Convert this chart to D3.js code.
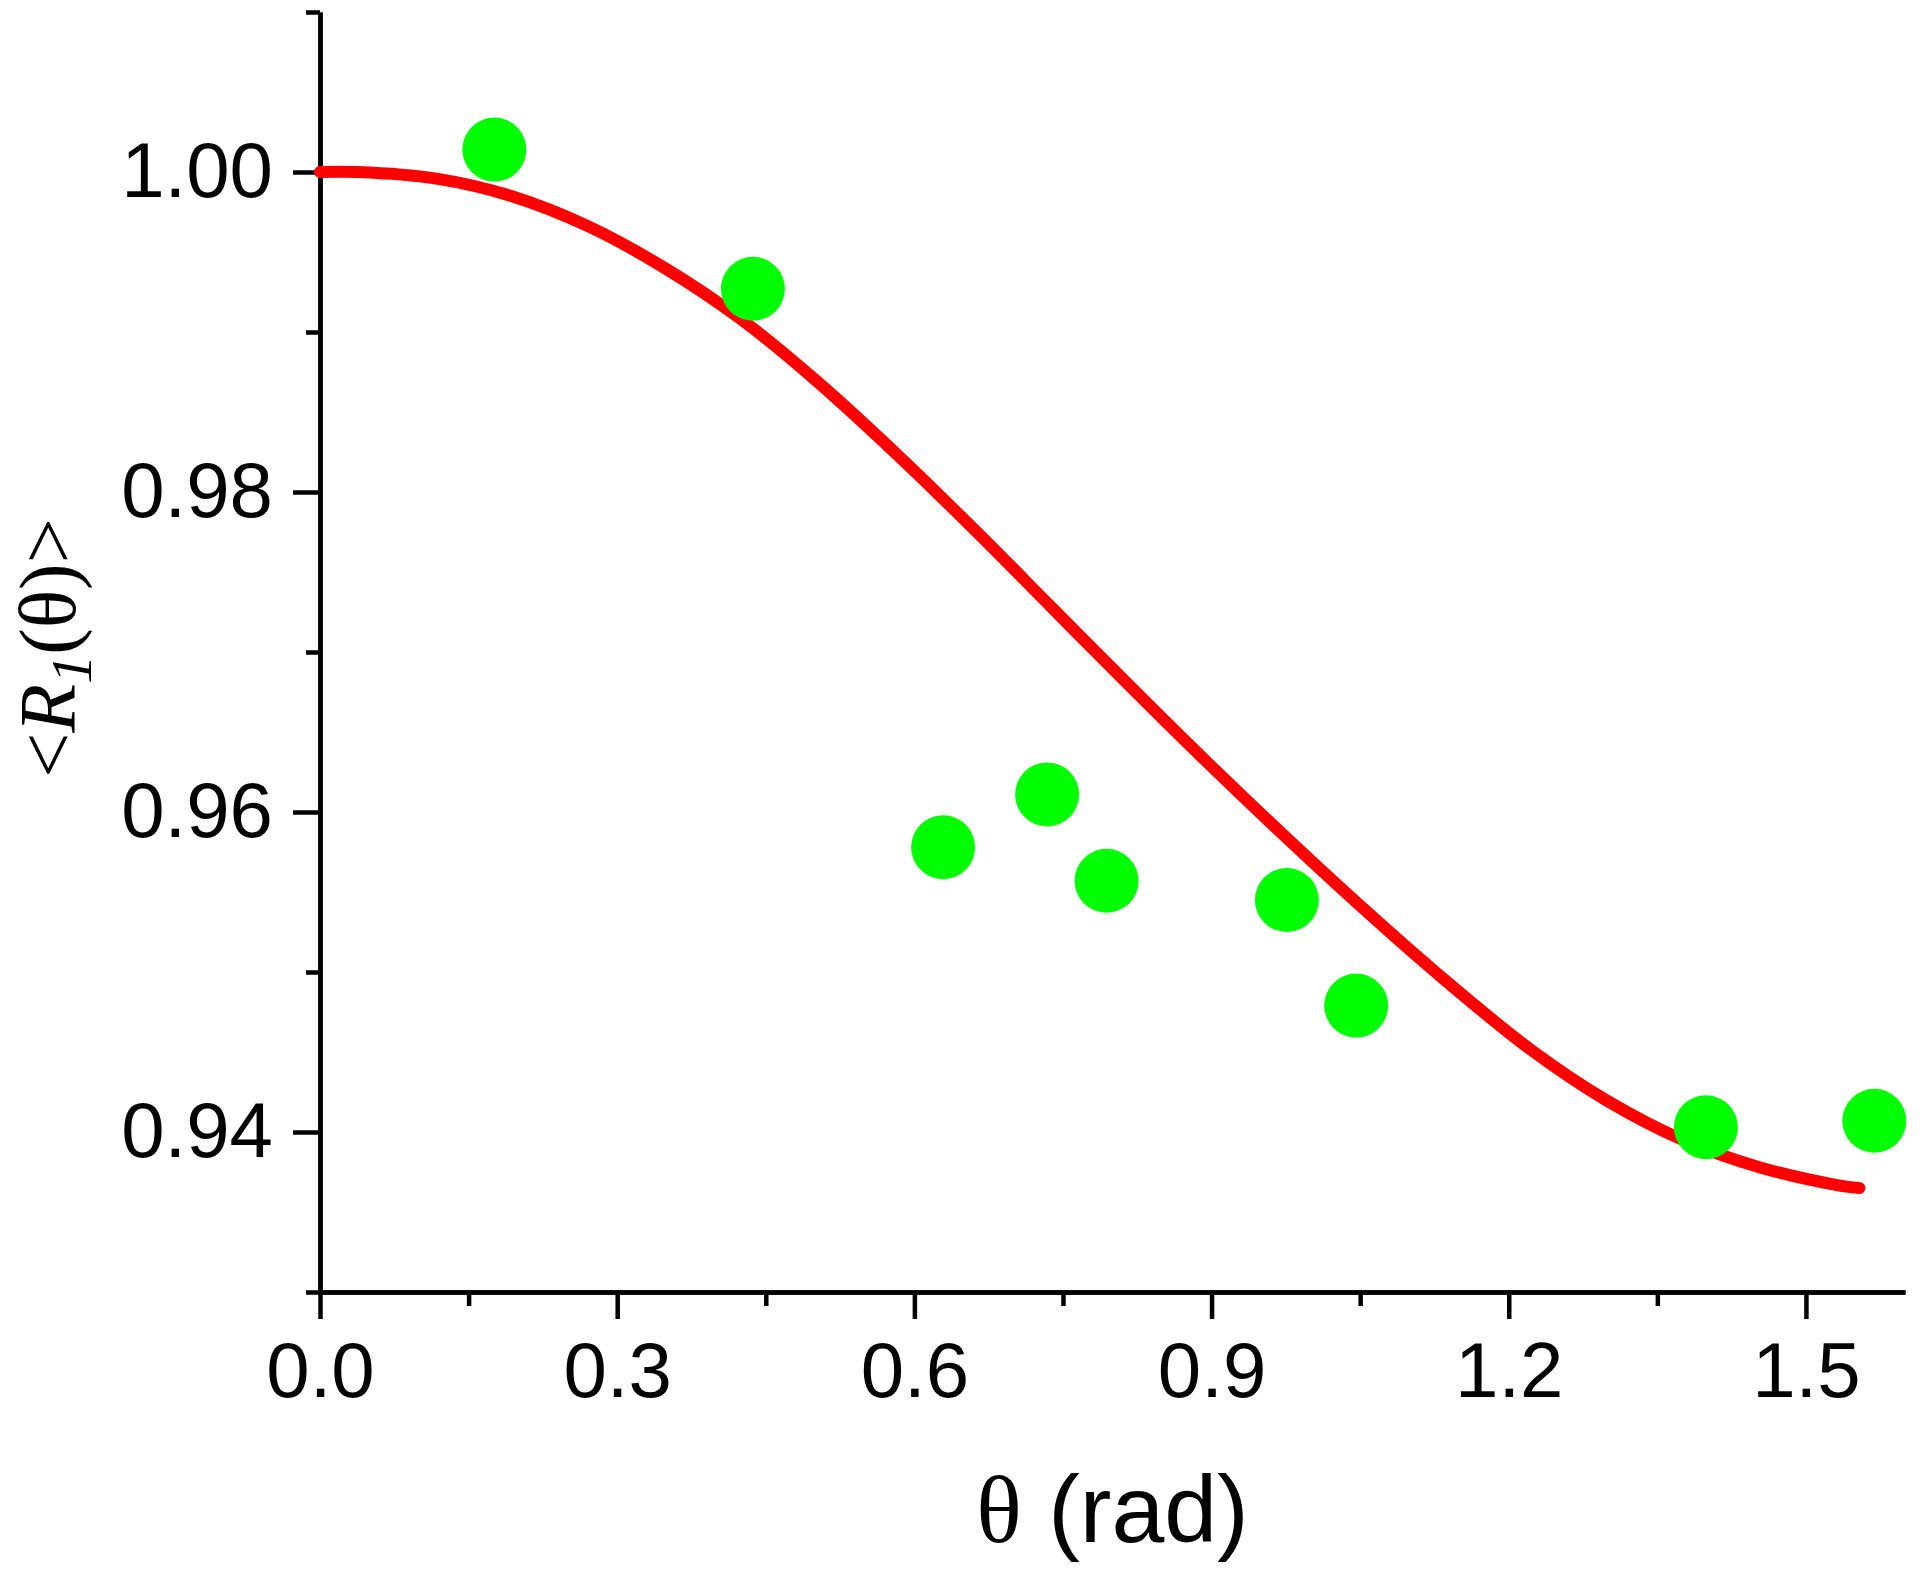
<!DOCTYPE html>
<html>
<head>
<meta charset="utf-8">
<script src="https://cdn.jsdelivr.net/npm/d3@7"></script>
<style>
  body { margin: 0; background: #fff; }
  .axis path, .axis line { stroke: #000; stroke-width: 4.5; }
  .axis text { font-family: "Liberation Sans", Arial, sans-serif; font-size: 78px; fill: #000; }
</style>
</head>
<body>
<svg id="chart" width="1920" height="1575"></svg>
<script>
// fitted curve
const fitTheta = [0, 0.038, 0.116, 0.193, 0.271, 0.348, 0.425, 0.502, 0.585, 0.663,
                  0.740, 0.817, 0.894, 0.972, 1.049, 1.126, 1.221, 1.298, 1.376, 1.453, 1.530, 1.554];
const fitValue = [1.0000, 1.0000, 0.9996, 0.9985, 0.9966, 0.9940, 0.9908, 0.9869, 0.9822, 0.9775,
                  0.9727, 0.9679, 0.9632, 0.9586, 0.9542, 0.9500, 0.9452, 0.9420, 0.9395, 0.9378, 0.9367, 0.9365];

// measured points (green)
const pointTheta = [0.176, 0.437, 0.629, 0.734, 0.794, 0.976, 1.046, 1.399, 1.569];
const pointValue = [1.0014, 0.9927, 0.9578, 0.9611, 0.9557, 0.9545, 0.9479, 0.9403, 0.9407];

const xTicks = [0, 0.3, 0.6, 0.9, 1.2, 1.5];
const xMinor = [0.15, 0.45, 0.75, 1.05, 1.35];
const yTicks = [0.94, 0.96, 0.98, 1.00];
const yMinor = [0.93, 0.95, 0.97, 0.99, 1.01];

(function() {
    const svg = d3.select('#chart');
    const plotLeft = 320, plotRight = 1905, plotTop = 12, plotBottom = 1292;

    const x = d3.scaleLinear().domain([0, 1.6]).range([plotLeft, plotRight]);
    const y = d3.scaleLinear().domain([0.93, 1.01]).range([plotBottom, plotTop]);

    // minor ticks first, then major axes on top
    svg.append('g').attr('class', 'axis')
        .attr('transform', `translate(0,${plotBottom})`)
        .call(d3.axisBottom(x).tickValues(xMinor).tickSize(14).tickSizeOuter(0).tickFormat(''));
    svg.append('g').attr('class', 'axis')
        .attr('transform', `translate(${plotLeft},0)`)
        .call(d3.axisLeft(y).tickValues(yMinor).tickSize(14).tickSizeOuter(0).tickFormat(''));

    const xAxis = svg.append('g').attr('class', 'axis')
        .attr('transform', `translate(0,${plotBottom})`)
        .call(d3.axisBottom(x).tickValues(xTicks).tickSize(27).tickSizeOuter(0).tickPadding(22)
            .tickFormat(d3.format('.1f')));
    xAxis.selectAll('text').attr('dy', '0.72em');

    const yAxis = svg.append('g').attr('class', 'axis')
        .attr('transform', `translate(${plotLeft},0)`)
        .call(d3.axisLeft(y).tickValues(yTicks).tickSize(27).tickSizeOuter(0).tickPadding(20)
            .tickFormat(d3.format('.2f')));
    yAxis.selectAll('text').attr('dy', '0.32em');

    // red fit line
    const line = d3.line()
        .x((d, i) => x(fitTheta[i]))
        .y((d, i) => y(fitValue[i]))
        .curve(d3.curveCatmullRom.alpha(0.5));

    svg.append('path')
        .datum(fitTheta)
        .attr('d', line)
        .attr('fill', 'none')
        .attr('stroke', '#ff0000')
        .attr('stroke-width', 12)
        .attr('stroke-linecap', 'round')
        .attr('stroke-linejoin', 'round');

    // green dots
    svg.selectAll('circle.pt')
        .data(pointTheta)
        .enter().append('circle')
        .attr('class', 'pt')
        .attr('cx', (d) => x(d))
        .attr('cy', (d, i) => y(pointValue[i]))
        .attr('r', 32)
        .attr('fill', '#00ff00');

    // x title
    const xt = svg.append('text')
        .attr('x', (plotLeft + plotRight) / 2)
        .attr('y', 1542)
        .attr('text-anchor', 'middle')
        .attr('font-size', 95)
        .attr('font-family', '"Liberation Sans", Arial, sans-serif');
    xt.append('tspan').attr('font-family', '"Liberation Serif", "Times New Roman", serif').text('θ');
    xt.append('tspan').text(' (rad)');

    // y title
    const yt = svg.append('text')
        .attr('transform', 'translate(75,648) rotate(-90)')
        .attr('text-anchor', 'middle')
        .attr('font-size', 80)
        .attr('font-family', '"Liberation Serif", "Times New Roman", serif');
    yt.append('tspan').text('<');
    yt.append('tspan').attr('font-style', 'italic').text('R');
    yt.append('tspan').attr('font-style', 'italic').attr('font-size', 58).attr('dy', 16).text('1');
    yt.append('tspan').attr('dy', -16).text('(θ)>');
})();
</script>
</body>
</html>
